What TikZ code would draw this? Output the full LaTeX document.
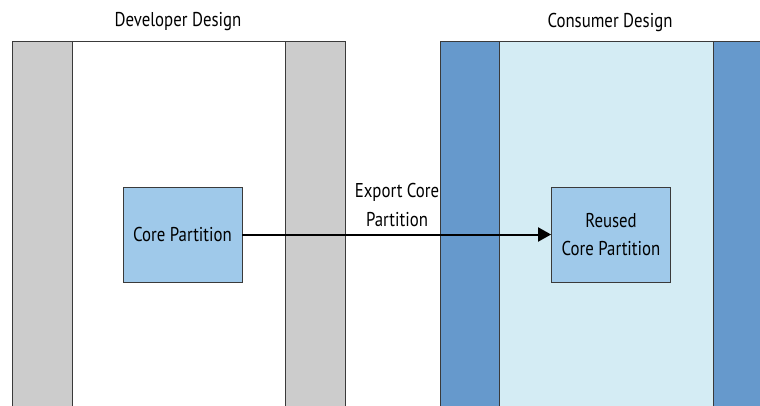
\documentclass[tikz,border=0pt]{standalone}
\usepackage{fontspec}
\setmainfont{PT Sans}[FakeStretch=0.84]
\usetikzlibrary{arrows.meta}
\definecolor{bandgray}{HTML}{CCCCCC}
\definecolor{bandblue}{HTML}{6699CC}
\definecolor{lightcyan}{HTML}{D4ECF4}
\definecolor{boxblue}{HTML}{9FC9EA}
\definecolor{edge}{HTML}{3A3A3A}
\tikzset{
  band/.style={draw=edge, line width=0.8pt},
  partbox/.style={draw=edge, line width=0.8pt, fill=boxblue, minimum width=119pt, minimum height=95pt, align=center, inner sep=0pt, font=\fontsize{20}{28.5}\selectfont},
  title/.style={font=\fontsize{20}{24}\selectfont},
  lbl/.style={font=\fontsize{20}{28.5}\selectfont, align=center},
  conn/.style={line width=2pt, -{Triangle[length=13pt,width=14pt]}}
}
\begin{document}
\begin{tikzpicture}[x=1pt,y=-1pt]
\useasboundingbox (0,0) rectangle (760,405);
\fill[white] (0,0) rectangle (760,405);
\begin{scope}
\clip (0,0) rectangle (760,405);
% Developer design
\draw[band, fill=white] (12,41) rectangle (345,415);
\draw[band, fill=bandgray] (12,41) rectangle (72,415);
\draw[band, fill=bandgray] (285,41) rectangle (345,415);
% Consumer design
\draw[band, fill=lightcyan] (440,41) rectangle (775,415);
\draw[band, fill=bandblue] (440,41) rectangle (499,415);
\draw[band, fill=bandblue] (713,41) rectangle (775,415);
\end{scope}
\node[title] (devt) at (178,22) {Developer Design};
\node[title] (cont) at (610,22) {Consumer Design};
\node[partbox] (core) at (182.5,234.5) {Core Partition};
\node[partbox] (reused) at (611,234.5) {Reused\\Core Partition};
\draw[conn] (core.east) -- (reused.west);
\node[lbl] (exp) at (397,205) {Export Core\\Partition};
\end{tikzpicture}
\end{document}
